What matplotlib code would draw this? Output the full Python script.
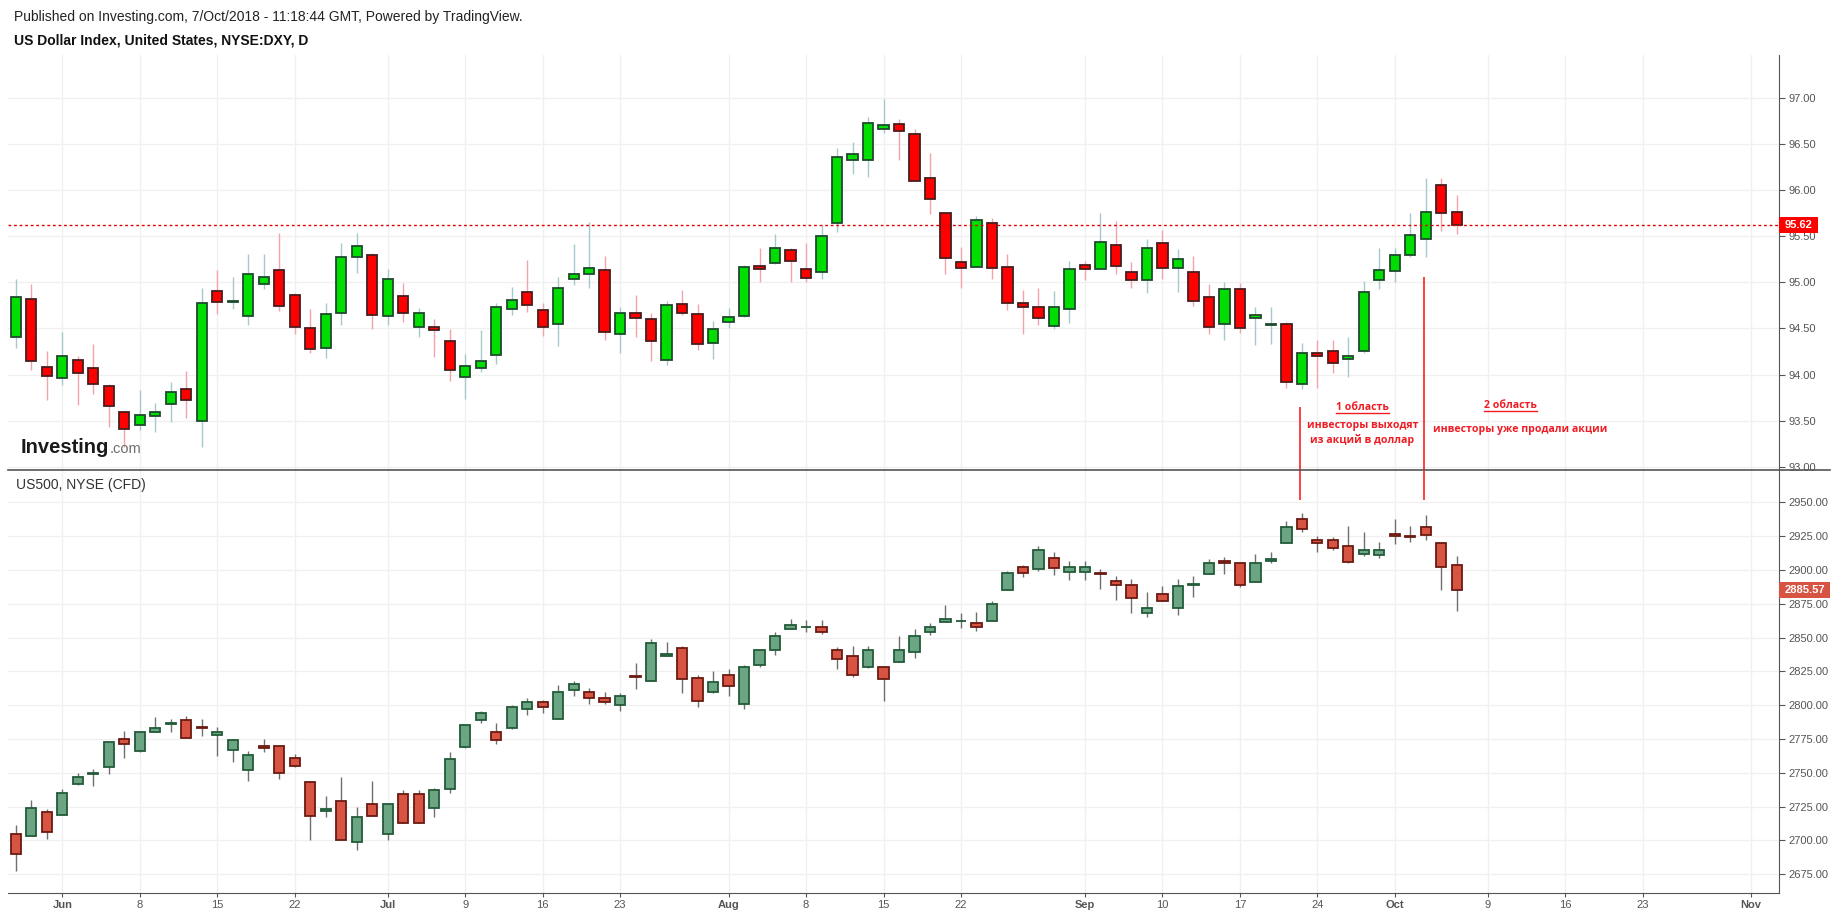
import numpy as np
import pandas as pd
import matplotlib
matplotlib.use('Agg')
import matplotlib.pyplot as plt
from matplotlib.patches import Rectangle
from matplotlib.lines import Line2D
from matplotlib.transforms import blended_transform_factory, IdentityTransform

plt.rcParams['font.family'] = ['Liberation Sans', 'DejaVu Sans']

# dias habiles del eje (TradingView usa indice de barra)
dias = pd.bdate_range('2018-05-29', '2018-11-02')

# US Dollar Index (DXY), velas diarias desde 29/May/2018
dxy_open = [94.41, 94.82, 94.08, 93.96, 94.16, 94.07, 93.88, 93.59, 93.45, 93.55,
            93.68, 93.84, 93.50, 94.91, 94.79, 94.63, 94.98, 95.13, 94.86, 94.50,
            94.29, 94.67, 95.27, 95.30, 94.63, 94.85, 94.52, 94.51, 94.36, 93.97,
            94.07, 94.21, 94.71, 94.89, 94.70, 94.55, 95.03, 95.09, 95.13, 94.44,
            94.67, 94.60, 94.16, 94.76, 94.66, 94.34, 94.57, 94.63, 95.18, 95.21,
            95.35, 95.14, 95.11, 95.64, 96.32, 96.33, 96.66, 96.72, 96.61, 96.13,
            95.75, 95.22, 95.17, 95.64, 95.17, 94.77, 94.73, 94.53, 94.71, 95.19,
            95.14, 95.40, 95.11, 95.02, 95.43, 95.15, 95.11, 94.84, 94.55, 94.93,
            94.61, 94.54, 94.55, 93.90, 94.23, 94.25, 94.17, 94.25, 95.02, 95.12,
            95.30, 95.47, 96.05, 95.76]
dxy_high = [95.04, 94.98, 94.25, 94.46, 94.20, 94.33, 93.90, 93.60, 93.83, 93.69,
            93.92, 94.04, 94.94, 95.13, 95.06, 95.31, 95.31, 95.53, 94.88, 94.71,
            94.78, 95.43, 95.53, 95.32, 95.14, 94.99, 94.72, 94.60, 94.49, 94.22,
            94.48, 94.77, 94.95, 95.24, 94.77, 95.06, 95.41, 95.65, 95.28, 94.73,
            94.86, 94.67, 94.80, 94.92, 94.76, 94.58, 94.72, 95.19, 95.37, 95.52,
            95.37, 95.42, 95.62, 96.46, 96.52, 96.79, 96.99, 96.77, 96.66, 96.40,
            95.75, 95.38, 95.72, 95.70, 95.31, 94.92, 94.94, 94.91, 95.23, 95.23,
            95.75, 95.66, 95.22, 95.47, 95.57, 95.36, 95.28, 94.98, 95.00, 94.99,
            94.73, 94.73, 94.57, 94.34, 94.37, 94.37, 94.41, 95.01, 95.37, 95.37,
            95.75, 96.13, 96.13, 95.95]
dxy_low = [94.29, 94.05, 93.72, 93.89, 93.67, 93.79, 93.43, 93.21, 93.40, 93.38,
           93.48, 93.53, 93.21, 94.66, 94.71, 94.54, 94.93, 94.69, 94.44, 94.23,
           94.18, 94.54, 95.10, 94.49, 94.54, 94.57, 94.41, 94.19, 93.93, 93.73,
           94.03, 94.11, 94.65, 94.68, 94.42, 94.31, 94.97, 94.94, 94.37, 94.23,
           94.41, 94.15, 94.10, 94.64, 94.27, 94.17, 94.50, 94.62, 95.00, 95.20,
           95.00, 95.00, 95.04, 95.54, 96.17, 96.14, 96.62, 96.33, 96.10, 95.74,
           95.09, 94.94, 95.16, 95.04, 94.70, 94.44, 94.54, 94.49, 94.56, 95.02,
           95.14, 95.09, 94.94, 94.88, 95.04, 94.89, 94.74, 94.44, 94.37, 94.45,
           94.32, 94.33, 93.85, 93.84, 93.85, 94.02, 93.97, 94.23, 94.93, 95.00,
           95.27, 95.27, 95.56, 95.52]
dxy_close = [94.84, 94.15, 93.98, 94.20, 94.02, 93.90, 93.66, 93.41, 93.56, 93.59,
             93.81, 93.72, 94.77, 94.79, 94.80, 95.09, 95.06, 94.74, 94.52, 94.28,
             94.66, 95.27, 95.39, 94.64, 95.03, 94.67, 94.67, 94.48, 94.05, 94.09,
             94.15, 94.73, 94.81, 94.75, 94.51, 94.94, 95.09, 95.15, 94.46, 94.67,
             94.61, 94.36, 94.75, 94.67, 94.33, 94.49, 94.62, 95.16, 95.14, 95.37,
             95.23, 95.05, 95.50, 96.36, 96.39, 96.73, 96.70, 96.64, 96.10, 95.90,
             95.26, 95.15, 95.67, 95.15, 94.78, 94.73, 94.61, 94.73, 95.14, 95.14,
             95.44, 95.18, 95.02, 95.37, 95.15, 95.25, 94.80, 94.52, 94.93, 94.50,
             94.64, 94.545, 93.92, 94.23, 94.20, 94.13, 94.20, 94.89, 95.13, 95.30,
             95.51, 95.76, 95.75, 95.62]

# US500 CFD, mismas fechas
spx_open = [2705, 2703, 2721, 2719, 2742, 2749, 2754, 2775, 2766, 2780.5,
            2786, 2789, 2783.5, 2778, 2766.5, 2752, 2770, 2769.5, 2761, 2743.5,
            2722, 2729, 2699, 2727, 2705, 2734, 2734, 2724, 2738, 2769,
            2789, 2780.5, 2783, 2797.5, 2802, 2790, 2811.5, 2810, 2805, 2800,
            2821.5, 2818, 2836, 2842.5, 2820, 2810, 2822, 2801, 2830, 2841,
            2856.5, 2857.5, 2857.5, 2840.5, 2836, 2828, 2828.5, 2832, 2839, 2854,
            2861.5, 2862, 2861, 2862.5, 2885.5, 2902, 2901, 2909, 2898.5, 2898.5,
            2897.5, 2892, 2889, 2868.5, 2882, 2872, 2889, 2897, 2907, 2905,
            2891, 2907, 2920, 2937.5, 2922.5, 2922.5, 2917.5, 2912, 2911, 2927,
            2925, 2932, 2920, 2903.5]
spx_high = [2711, 2730, 2723, 2738, 2749.5, 2753, 2773, 2781, 2780, 2791,
            2790, 2792, 2790, 2784, 2775, 2766, 2775, 2770, 2764, 2744,
            2733, 2747, 2725, 2744, 2727, 2737, 2737, 2739, 2765, 2785,
            2796, 2787, 2800, 2805, 2804, 2815, 2818, 2812.5, 2810, 2809,
            2831, 2849, 2847, 2844, 2822, 2825, 2827, 2830, 2841, 2854,
            2864, 2863, 2863, 2843, 2844, 2844, 2829, 2851, 2856, 2860.5,
            2874, 2868, 2869, 2877, 2899, 2904, 2918, 2913, 2907, 2907,
            2901, 2895.5, 2893, 2884, 2888, 2893, 2895.5, 2908, 2909.5, 2905.5,
            2912, 2913, 2936, 2942, 2925, 2924.5, 2932.5, 2928, 2921, 2938,
            2932.5, 2940.5, 2920.5, 2910]
spx_low = [2677.5, 2703, 2701, 2719, 2741, 2740, 2749, 2761, 2765, 2780,
           2780, 2776, 2777, 2762.5, 2758, 2744, 2765, 2745.5, 2754, 2700,
           2717, 2700, 2693, 2718, 2700, 2712.5, 2712.5, 2717, 2735, 2768,
           2787, 2771, 2782.5, 2793, 2794, 2790, 2807, 2801, 2801, 2796,
           2812, 2818, 2836, 2809, 2798.5, 2809, 2807, 2797, 2828.5, 2837,
           2856, 2854, 2853, 2827, 2821, 2827.5, 2803, 2832, 2835, 2852,
           2861.5, 2857, 2855, 2862, 2885.5, 2894.5, 2899, 2896, 2892.5, 2892.5,
           2886, 2878, 2868, 2865, 2877, 2867, 2880, 2897, 2897, 2887.5,
           2891, 2905, 2920, 2928, 2913.5, 2915, 2905, 2910.5, 2909, 2919,
           2921, 2922.5, 2885, 2870]
spx_close = [2690, 2724, 2706, 2735, 2747, 2749.5, 2773, 2771, 2780, 2783,
             2787, 2776, 2783, 2780, 2774, 2763, 2768, 2750, 2755, 2718,
             2723.5, 2700, 2717, 2718, 2727, 2713, 2713, 2737, 2760.5, 2785,
             2794.5, 2774.5, 2799, 2802, 2799, 2810, 2816, 2805, 2802, 2807,
             2821, 2846, 2838, 2819, 2803, 2817, 2814, 2828, 2841, 2851,
             2859, 2858, 2854, 2834, 2822.5, 2840.5, 2819, 2841, 2851, 2857.5,
             2863.5, 2862.5, 2857.5, 2875, 2897.5, 2898, 2914.5, 2901.5, 2902, 2902,
             2897, 2889, 2879, 2872, 2877, 2888.5, 2889.5, 2905, 2905.5, 2889,
             2905, 2908.5, 2931.5, 2930.5, 2920, 2916, 2906, 2914.5, 2914.5, 2925.5,
             2924.5, 2926, 2902.5, 2885.57]

fechas_ticks = ['2018-06-01', '2018-06-08', '2018-06-15', '2018-06-22', '2018-07-02',
                '2018-07-09', '2018-07-16', '2018-07-23', '2018-08-01', '2018-08-08',
                '2018-08-15', '2018-08-22', '2018-09-03', '2018-09-10', '2018-09-17',
                '2018-09-24', '2018-10-01', '2018-10-09', '2018-10-16', '2018-10-23',
                '2018-11-01']
etiquetas_ticks = ['Jun', '8', '15', '22', 'Jul', '9', '16', '23', 'Aug', '8', '15', '22',
                   'Sep', '10', '17', '24', 'Oct', '9', '16', '23', 'Nov']
meses = ['Jun', 'Jul', 'Aug', 'Sep', 'Oct', 'Nov']

dxy_ticks = [93.0, 93.5, 94.0, 94.5, 95.0, 95.5, 96.0, 96.5, 97.0]
spx_ticks = [2675, 2700, 2725, 2750, 2775, 2800, 2825, 2850, 2875, 2900, 2925, 2950]

# lineas de "areas" (indice de barra) y textos
linea1_x, linea1_top = 82.85, 93.65
linea2_x, linea2_top = 90.9, 95.06
lineas_spx_top = 2951.7

GRIS = '#555555'
ROJO_TXT = '#f01c24'


def velas(ax, o, h, l, c, cuerpo, borde, mecha, ancho=0.66):
    for i in range(len(o)):
        k = 0 if c[i] >= o[i] else 1
        ax.vlines(i, l[i], h[i], color=mecha[k], lw=1, zorder=2)
        y0 = min(o[i], c[i])
        alto = abs(c[i] - o[i])
        ax.add_patch(Rectangle((i - ancho / 2, y0), ancho, alto, facecolor=cuerpo[k],
                               edgecolor=borde[k], lw=1.3, zorder=3))


def etiqueta_precio(ax, valor, texto, color, ancho, alto):
    tr = blended_transform_factory(ax.transAxes, ax.transData)
    ax.add_patch(Rectangle((1.0, valor - alto / 2), ancho, alto, transform=tr,
                           facecolor=color, edgecolor='none', clip_on=False, zorder=10))
    ax.text(1.0 + ancho / 2, valor, texto, transform=tr, ha='center', va='center',
            color='white', fontsize=8, weight='bold', clip_on=False, zorder=11)


fig = plt.figure(figsize=(18.37, 9.17), dpi=100)
W, H = 1837.0, 917.0
izq, der = 8, 1779
arriba = 55
ax1 = fig.add_axes([izq / W, 1 - 470 / H, (der - izq) / W, (470 - arriba) / H])
ax2 = fig.add_axes([izq / W, 1 - 893 / H, (der - izq) / W, 423 / H])

velas(ax1, dxy_open, dxy_high, dxy_low, dxy_close,
      cuerpo=('#00dd00', '#ff0000'), borde=('#1e4a2c', '#4a1c1c'),
      mecha=('#a6c9cc', '#f4a3ac'))
velas(ax2, spx_open, spx_high, spx_low, spx_close,
      cuerpo=('#6ba583', '#d75442'), borde=('#225b37', '#6b1a12'),
      mecha=('#6f6f6f', '#6f6f6f'))

pos_ticks = [dias.get_loc(pd.Timestamp(f)) for f in fechas_ticks]
x0 = (izq - 15.8) / 15.495
x1 = (der - 15.8) / 15.495

for ax in (ax1, ax2):
    ax.set_xlim(x0, x1)
    ax.set_xticks(pos_ticks)
    ax.grid(True, color='#f0f0f0', lw=1)
    ax.set_axisbelow(True)
    ax.yaxis.tick_right()
    for lado in ('top', 'left', 'bottom'):
        ax.spines[lado].set_visible(False)
    ax.spines['right'].set_color(GRIS)
    ax.tick_params(axis='y', colors=GRIS, labelcolor=GRIS, labelsize=8, length=4, pad=3)

ax1.set_ylim(92.965, 97 + (97.7 - arriba) / 92.25)
ax1.set_yticks(dxy_ticks)
ax1.set_yticklabels(['%.2f' % v for v in dxy_ticks])
ax1.tick_params(axis='x', bottom=False, labelbottom=False)

ax2.set_ylim(2661, 2974)
ax2.set_yticks(spx_ticks)
ax2.set_yticklabels(['%.2f' % v for v in spx_ticks])
ax2.spines['bottom'].set_visible(True)
ax2.spines['bottom'].set_color(GRIS)
ax2.set_xticklabels(etiquetas_ticks)
ax2.tick_params(axis='x', colors=GRIS, labelcolor=GRIS, labelsize=8, length=3, pad=2)
for t in ax2.get_xticklabels():
    if t.get_text() in meses:
        t.set_fontweight('bold')

# ultimo precio
ax1.axhline(dxy_close[-1], color='#e00000', lw=1, ls=(0, (2, 2)), zorder=4)
etiqueta_precio(ax1, dxy_close[-1], '%.2f' % dxy_close[-1], '#ff0000', 39 / 1771, 15.5 / 92.25)
etiqueta_precio(ax2, spx_close[-1], '%.2f' % spx_close[-1], '#d75442', 51 / 1771, 16 / 1.3516)

# separador entre paneles
fig.add_artist(Line2D([izq / W, 1830 / W], [1 - 470 / H, 1 - 470 / H], color=GRIS, lw=1.2))

# lineas rojas verticales
for xl, ytop in ((linea1_x, linea1_top), (linea2_x, linea2_top)):
    ax1.vlines(xl, 92.965, ytop, color='#ff2020', lw=1.2, zorder=5)
    ax2.vlines(xl, lineas_spx_top, 2974, color='#ff2020', lw=1.2, zorder=5)

fuente_nota = dict(color=ROJO_TXT, fontsize=7.6, weight='bold', family=['Open Sans', 'DejaVu Sans'],
                   ha='center', va='center', zorder=6)
t1 = ax1.text(86.9, 93.64, '1 область', **fuente_nota)
ax1.text(86.9, 93.445, 'инвесторы выходят', **fuente_nota)
ax1.text(86.9, 93.29, 'из акций в доллар', **fuente_nota)
t2 = ax1.text(96.45, 93.66, '2 область', **fuente_nota)
ax1.text(97.08, 93.405, 'инвесторы уже продали акции', **fuente_nota)

# textos de cabecera
fig.text(14 / W, 1 - 17 / H, 'Published on Investing.com, 7/Oct/2018 - 11:18:44 GMT, Powered by TradingView.',
         fontsize=10, color='#222222', va='center')
fig.text(14 / W, 1 - 40.5 / H, 'US Dollar Index, United States, NYSE:DXY, D',
         fontsize=10, weight='bold', color='#111111', va='center')
fig.text(16 / W, 1 - 485 / H, 'US500, NYSE (CFD)', fontsize=10, color='#333333', va='center')

logo = fig.text(20.5 / W, 1 - 453 / H, 'Investing', fontsize=14.5, weight='bold',
                color='#1a1a1a', va='baseline')

fig.canvas.draw()
rend = fig.canvas.get_renderer()
bb = logo.get_window_extent(rend)
fig.text((bb.x1 + 1) / W, 1 - 453 / H, '.com', fontsize=10.5, color='#6d6d6d', va='baseline')

# subrayado de los titulos de area
for t in (t1, t2):
    b = t.get_window_extent(rend)
    fig.add_artist(Line2D([b.x0, b.x1], [b.y0 + 0.5, b.y0 + 0.5], transform=IdentityTransform(),
                          color=ROJO_TXT, lw=1))

fig.savefig('out.png', dpi=100)
